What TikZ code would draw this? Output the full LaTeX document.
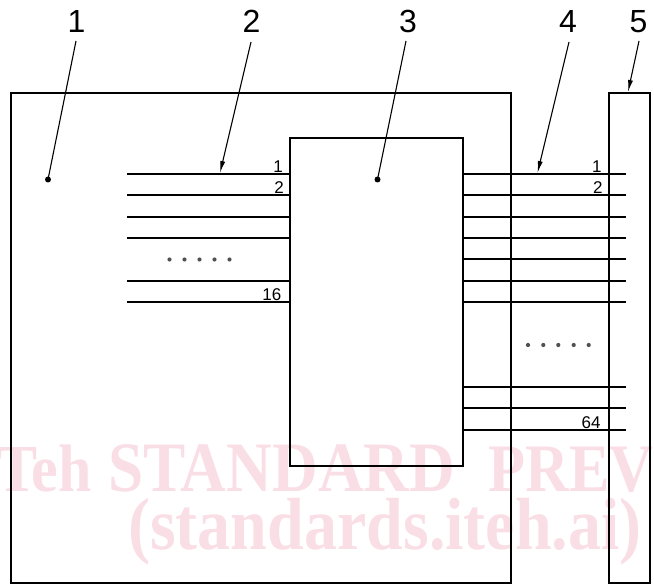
\documentclass[tikz,border=0pt]{standalone}
\usepackage{fontspec}
\setmainfont{Liberation Sans}
\newfontfamily\wmfont{Liberation Serif}
\usetikzlibrary{arrows.meta}
\definecolor{wm}{RGB}{250,222,230}
\definecolor{dotgray}{RGB}{80,80,80}
\begin{document}
\begin{tikzpicture}[x=1pt,y=-1pt,
  box/.style={draw=black,line width=2.4pt,minimum width=#1,inner sep=0pt,outer sep=0pt},
  sig/.style={line width=2.4pt},
  leader/.style={line width=1.1pt},
  leadarrow/.style={line width=1.1pt,-{Latex[length=12pt,width=5pt]}},
  biglabel/.style={font=\fontsize{32}{32}\selectfont,inner sep=0pt,anchor=base},
  pinlabel/.style={font=\fontsize{17}{17}\selectfont,inner sep=0pt,anchor=base east},
  wmtext/.style={text=wm,font=\wmfont\bfseries,inner sep=0pt},
  smalldot/.style={fill=dotgray,draw=none},
]
\useasboundingbox (0,0) rectangle (654,585);
% watermark
\node[wmtext,anchor=base east] (wm1a) at (92,492) {\scalebox{1}[1.12]{\fontsize{60}{60}\selectfont iTeh}};
\node[wmtext,anchor=base west] (wm1b) at (108,492) {\resizebox{347pt}{!}{\scalebox{1}[1.12]{\fontsize{60}{60}\selectfont STANDARD}}};
\node[wmtext,anchor=base west] (wm1c) at (488,492) {\resizebox{!}{44.5pt}{\scalebox{1}[1.12]{\fontsize{60}{60}\selectfont PREVIEW}}};
\node[wmtext,anchor=base] (wm2) at (385,549) {\scalebox{1}[1.12]{\fontsize{66}{66}\selectfont (standards.iteh.ai)}};
% boxes
\node[box=500pt,minimum height=490pt] (b1) at (261,338) {};
\node[box=173pt,minimum height=328pt] (b3) at (376.5,302) {};
\node[box=41pt,minimum height=490pt] (b5) at (629.5,338) {};
% left signal lines (16)
\foreach \y [count=\i] in {174,195,217,238,281,302}{
  \coordinate (L\i) at (127,\y);
  \draw[sig] (L\i) -- (L\i -| b3.west);
}
% right signal lines (64)
\foreach \y [count=\i] in {174,195,217,238,259,281,302,387,408,430}{
  \coordinate (R\i) at (626,\y);
  \draw[sig] (R\i -| b3.east) -- (R\i);
}
% dots
\foreach \x in {169.5,184.5,199.5,214.5,229.5}{\fill[smalldot] (\x,259.5) circle (2.1pt);}
\foreach \x in {528,543.3,558.3,573.7,588.7}{\fill[smalldot] (\x,345) circle (2.1pt);}
% pin labels
\node[pinlabel] (p1) at (283,172.5) {1};
\node[pinlabel] (p2) at (284,193.3) {2};
\node[pinlabel] (p16) at (281.5,300.5) {16};
\node[pinlabel] (q1) at (601.7,172.5) {1};
\node[pinlabel] (q2) at (602.7,193.3) {2};
\node[pinlabel] (q64) at (600.7,428.3) {64};
% big labels and leaders
\node[biglabel] (n1) at (76.5,33) {1};
\node[biglabel] (n2) at (251.5,33) {2};
\node[biglabel] (n3) at (408,33) {3};
\node[biglabel] (n4) at (568,33) {4};
\node[biglabel] (n5) at (638.5,33) {5};
\coordinate (s1) at (76,41);
\coordinate (s2) at (251,42);
\coordinate (s3) at (406,41);
\coordinate (s4) at (569,42);
\coordinate (s5) at (639,41);
\coordinate (t1) at (48,179.5);
\coordinate (t2) at (220,173);
\coordinate (t3) at (377.5,179.5);
\coordinate (t4) at (537.5,173);
\coordinate (t5) at (628,92);
\draw[leader] (s1) -- (t1);
\fill (t1) circle (3pt);
\draw[leader] (s3) -- (t3);
\fill (t3) circle (3pt);
\draw[leadarrow] (s2) -- (t2);
\draw[leadarrow] (s4) -- (t4);
\draw[leadarrow] (s5) -- (t5);
\end{tikzpicture}
\end{document}
